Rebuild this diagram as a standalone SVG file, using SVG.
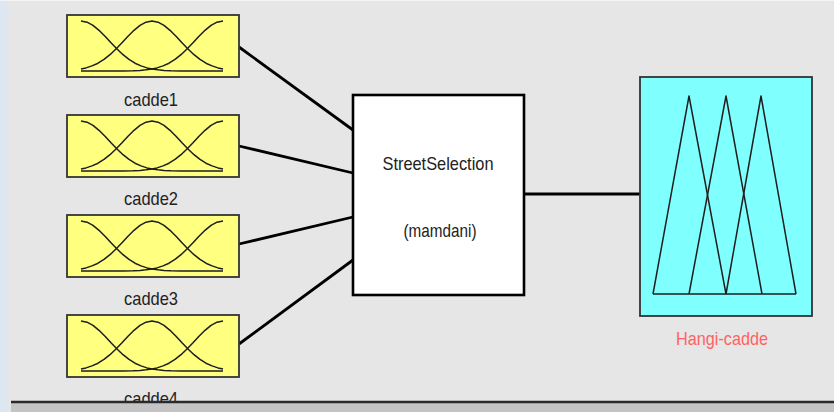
<svg xmlns="http://www.w3.org/2000/svg" xmlns:xlink="http://www.w3.org/1999/xlink" width="834" height="412" viewBox="0 0 834 412">
  <style>
    .bg { fill: #e6e6e6; }
    .in-box { fill: #ffff80; stroke: #333; stroke-width: 1.8; }
    .out-box { fill: #80ffff; stroke: #333; stroke-width: 1.8; }
    .sys-box { fill: #ffffff; stroke: #000; stroke-width: 2.6; }
    .mf { fill: none; stroke: #1e1e1e; stroke-width: 1.5; stroke-linejoin: round; }
    .wire { stroke: #000; stroke-width: 2.8; fill: none; }
    .lbl { font-family: "Liberation Sans", Arial, sans-serif; font-size: 19px; fill: #222; text-anchor: middle; }
    .out-lbl { fill: #ff6262; }
  </style>
  <defs>
    <!-- input variable icon: three gaussian membership functions -->
    <g id="mfIn">
      <rect class="in-box" x="0" y="0" width="172" height="62"/>
      <polyline class="mf" points="14,6 20,7.2 26,10.4 32,15.3 38,21.3 44,27.8 50,34 56,39.7 62,44.4 68,48.2 74,50.9 80,52.9 85,54 91,54.8 97,55.4 104,55.7 114,55.9 124,56 156,56"/>
      <polyline class="mf" points="14,54 19,52.9 25,50.9 31,48.2 37,44.4 43,39.7 49,34 55,27.8 61,21.3 67,15.3 73,10.4 79,7.2 85,6 91,7.2 97,10.4 103,15.3 109,21.3 115,27.8 121,34 127,39.7 133,44.4 139,48.2 145,50.9 151,52.9 156,54"/>
      <polyline class="mf" points="156,6 150,7.2 144,10.4 138,15.3 132,21.3 126,27.8 120,34 114,39.7 108,44.4 102,48.2 96,50.9 90,52.9 85,54 79,54.8 73,55.4 66,55.7 56,55.9 46,56 14,56"/>
    </g>
  </defs>

  <!-- canvas -->
  <rect class="bg" x="0" y="0" width="834" height="412"/>
  <rect x="0" y="0" width="8" height="412" fill="#dde7f2"/>
  <line x1="0" y1="0.5" x2="834" y2="0.5" stroke="#f4f4f4" stroke-width="1"/>

  <!-- connectors -->
  <g id="connectors">
    <line class="wire" x1="239" y1="47" x2="353" y2="130"/>
    <line class="wire" x1="239" y1="146" x2="353" y2="173"/>
    <line class="wire" x1="239" y1="244" x2="353" y2="217"/>
    <line class="wire" x1="239" y1="344" x2="353" y2="260"/>
    <line class="wire" x1="524" y1="194" x2="640" y2="194"/>
  </g>

  <!-- inputs -->
  <g id="cadde1">
    <use xlink:href="#mfIn" href="#mfIn" x="67" y="15"/>
    <text class="lbl" x="151" y="106" textLength="54" lengthAdjust="spacingAndGlyphs">cadde1</text>
  </g>
  <g id="cadde2">
    <use xlink:href="#mfIn" href="#mfIn" x="67" y="115"/>
    <text class="lbl" x="151" y="205" textLength="54" lengthAdjust="spacingAndGlyphs">cadde2</text>
  </g>
  <g id="cadde3">
    <use xlink:href="#mfIn" href="#mfIn" x="67" y="215"/>
    <text class="lbl" x="151" y="305" textLength="54" lengthAdjust="spacingAndGlyphs">cadde3</text>
  </g>
  <g id="cadde4">
    <use xlink:href="#mfIn" href="#mfIn" x="67" y="315"/>
    <text class="lbl" x="151" y="405" textLength="54" lengthAdjust="spacingAndGlyphs">cadde4</text>
  </g>

  <!-- inference system -->
  <g id="StreetSelection">
    <rect class="sys-box" x="353" y="95" width="171" height="200"/>
    <text class="lbl" x="438" y="170" textLength="111" lengthAdjust="spacingAndGlyphs">StreetSelection</text>
    <text class="lbl" x="440" y="237" textLength="73" lengthAdjust="spacingAndGlyphs">(mamdani)</text>
  </g>

  <!-- output variable: three triangular membership functions -->
  <g id="Hangi-cadde">
    <rect class="out-box" x="640" y="77" width="172" height="239"/>
    <polyline class="mf" points="653,294 689,96 726,294"/>
    <polyline class="mf" points="689,294 726,96 762,294"/>
    <polyline class="mf" points="726,294 761,96 796,294"/>
    <line class="mf" x1="653" y1="294" x2="796" y2="294"/>
    <text class="lbl out-lbl" x="722" y="345" textLength="92" lengthAdjust="spacingAndGlyphs">Hangi-cadde</text>
  </g>

  <!-- lower panel edge -->
  <rect x="11" y="401" width="823" height="11" fill="#c4c4c4"/>
  <line x1="11" y1="402" x2="834" y2="402" stroke="#2a2a2a" stroke-width="2.5"/>
</svg>
